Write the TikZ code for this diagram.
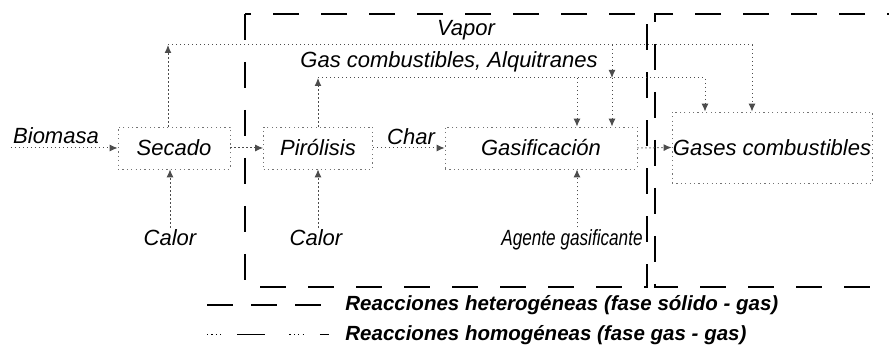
\documentclass[tikz,border=0pt]{standalone}
\usepackage{fontspec}
\setmainfont{Liberation Sans}
\usetikzlibrary{arrows.meta}
\tikzset{
	zone/.style={line width=1.4pt, dash pattern=on 13pt off 11pt},
	legdash/.style={line width=0.8pt, dash pattern=on 13pt off 9pt},
	legdot/.style={line width=0.5pt, dash pattern=on 0.6pt off 1.6pt on 0.6pt off 1.6pt on 0.6pt off 1.6pt on 0.6pt off 8pt on 14pt off 12pt},
	box/.style={draw=black!55, dash pattern=on 0.6pt off 1.6pt, line width=0.4pt, minimum height=21pt, inner sep=0pt, font=\fontsize{11}{13}\selectfont\itshape},
	lbl/.style={font=\fontsize{11}{13}\selectfont\itshape, inner sep=1pt},
	link/.style={draw=black!70, dash pattern=on 0.6pt off 1.4pt, line width=0.5pt},
	flow/.style={link, -{Latex[length=4pt,width=3.5pt]}},
	legtxt/.style={font=\fontsize{10.25}{12}\selectfont\bfseries\itshape, anchor=west, inner sep=0pt}
}

\begin{document}
\begin{tikzpicture}[x=0.5pt, y=-0.5pt]
			%%%%% START %%%%%
			\useasboundingbox (0,0) rectangle (889,356);
			
			% zonas de reaccion
			\draw[zone] (245,14) rectangle (647,287);
			\draw[zone, dash phase=12pt] (889,14) -- (655,14) -- (655,287) -- (889,287);
			
			% etapas
			\node[box, minimum width=56pt] (secado) at (174,148) {Secado};
			\node[box, minimum width=54.5pt] (pirolisis) at (318,148) {Pirólisis};
			\node[box, minimum width=96pt] (gasif) at (541,148) {Gasificación};
			\node[box, minimum width=100pt, minimum height=35.5pt] (gases) at (772,147.5) {Gases combustibles};
			
			% entradas
			\node[lbl] (bio) at (56,136) {Biomasa};
			\node[lbl] (calorA) at (170,238) {Calor};
			\node[lbl] (calorB) at (316,238) {Calor};
			\node[lbl] (agente) at (572,240) {\scalebox{0.78}[1]{Agente gasificante}};
			\node[lbl] (char) at (411,137) {Char};
			\node[lbl] (vapor) at (466,30) {Vapor};
			\node[lbl] (alq) at (449,62) {Gas combustibles, Alquitranes};
			
			\coordinate (vapL) at (168,45);
			\coordinate (vapM) at (612,45);
			\coordinate (vapR) at (752,45);
			\coordinate (gasL) at (318,78);
			\coordinate (gasM) at (577,78);
			\coordinate (gasR) at (705,78);
			
			\draw[flow] (bio.west |- secado.west) -- (secado.west);
			\draw[flow] (secado.east) -- (pirolisis.west);
			\draw[flow] (pirolisis.east) -- (gasif.west);
			\draw[flow] (gasif.east) -- (gases.west);
			
			\draw[flow] (calorA.north) -- (calorA |- secado.south);
			\draw[flow] (calorB.north -| pirolisis.south) -- (pirolisis.south);
			\draw[flow] (gasM |- agente.north) -- (gasM |- gasif.south);
			
			% vapor
			\draw[flow] (vapL |- secado.north) -- (vapL);
			\draw[flow] (vapL) -- (vapR) -- (vapR |- gases.north);
			\draw[flow] (vapM) -- (vapM |- gasL);
			\draw[flow] (vapM |- gasL) -- (vapM |- gasif.north);
			
			% gas combustibles, alquitranes
			\draw[flow] (pirolisis.north) -- (gasL);
			\draw[flow] (gasL) -- (gasR) -- (gasR |- gases.north);
			\draw[flow] (gasM) -- (gasM |- gasif.north);
			
			% leyenda
			\coordinate (legA) at (207,305);
			\coordinate (legB) at (207,335);
			\draw[legdash] (legA) -- ++(120,0);
			\draw[legdot] (legB) -- ++(122,0);
			\node[legtxt] (hetero) at (345,305) {Reacciones heterogéneas (fase sólido - gas)};
			\node[legtxt] (homo) at (345,335) {Reacciones homogéneas (fase gas - gas)};
			
			%%%%% END %%%%%
\end{tikzpicture}
\end{document}
